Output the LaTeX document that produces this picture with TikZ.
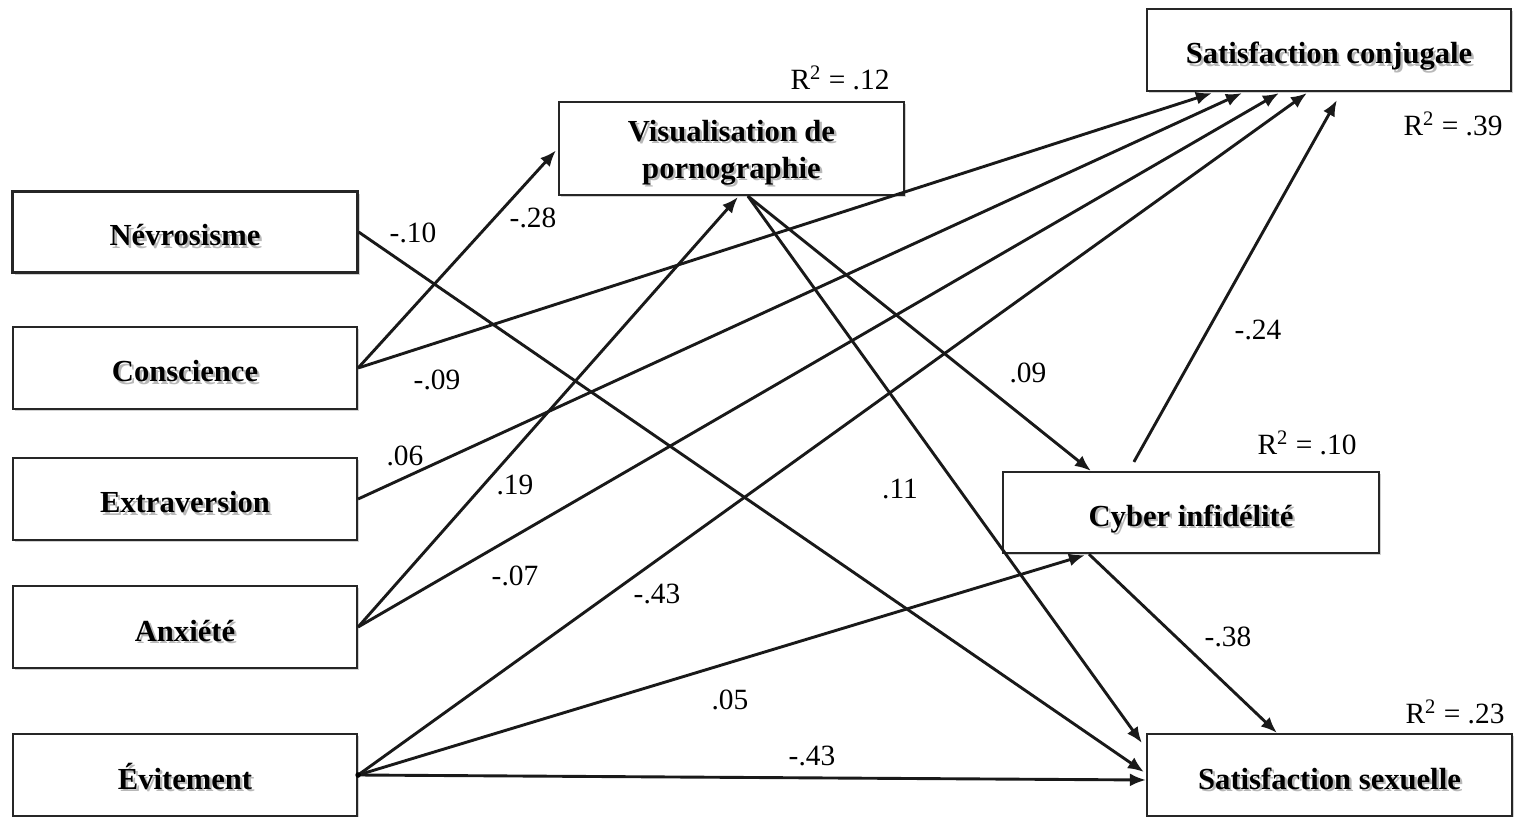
\documentclass[tikz,border=0pt]{standalone}
\usepackage{fontspec}
\setmainfont{Liberation Serif}
\usetikzlibrary{arrows.meta,calc,shadows}
\newcommand\shtxt[1]{\leavevmode\rlap{\kern1.2pt\raisebox{-1.2pt}{\color{black!28}#1}}#1}
\begin{document}
\begin{tikzpicture}[x=0.5pt,y=-0.5pt,
  box/.style={draw=black!85,line width=1.1pt,fill=white,inner sep=0pt,
    font=\fontsize{15.3}{18.5}\selectfont\bfseries,align=center,
    text height=16pt,text depth=2pt,
    drop shadow={shadow xshift=1.2pt,shadow yshift=-1.2pt,opacity=0.18,fill=black}},
  lbl/.style={font=\fontsize{14.7}{16}\selectfont,inner sep=0pt},
  path/.style={line width=1.45pt,draw=black!90,-{Latex[length=8pt,width=6.5pt]}}]
\useasboundingbox (0,0) rectangle (1514,817);
% nodes
\node[box,minimum width=172.5pt,minimum height=40.5pt] (neuro) at (185,232) {\shtxt{Névrosisme}};
\node[box,minimum width=172pt,minimum height=41pt] (consc) at (185,368) {\shtxt{Conscience}};
\node[box,minimum width=172pt,minimum height=41pt] (extra) at (185,499) {\shtxt{Extraversion}};
\node[box,minimum width=172pt,minimum height=41pt] (anx) at (185,627) {\shtxt{Anxiété}};
\node[box,minimum width=172pt,minimum height=41pt] (evit) at (185,775) {\shtxt{Évitement}};
\node[box,minimum width=172.5pt,minimum height=46.5pt,text height=32pt] (vis) at (731.5,148.5) {\shtxt{Visualisation de}\\\shtxt{pornographie}};
\node[box,minimum width=182pt,minimum height=41pt] (sconj) at (1329,50) {\shtxt{Satisfaction conjugale}};
\node[box,minimum width=188pt,minimum height=40.5pt] (cyber) at (1191,512.5) {\shtxt{Cyber infidélité}};
\node[box,minimum width=182.5pt,minimum height=41pt] (ssex) at (1329.5,775) {\shtxt{Satisfaction sexuelle}};
% R squared
\node[lbl] (r1) at (840,78) {R\textsuperscript{2} = .12};
\node[lbl] (r2) at (1453,124) {R\textsuperscript{2} = .39};
\node[lbl] (r3) at (1307,443) {R\textsuperscript{2} = .10};
\node[lbl] (r4) at (1455,712) {R\textsuperscript{2} = .23};
% endpoints
\coordinate (visout) at ($(vis.south west)+(190,0)$);
\coordinate (cybtop) at ($(cyber.north west)+(132,-9)$);
\coordinate (cybbot) at ($(cyber.south west)+(87,0)$);
% connectors
\draw[path] (neuro.east) -- ($(ssex.west)+(-2,-3)$);
\draw[path] (consc.east) -- ($(vis.west)+(-2,2)$);
\draw[path] (consc.east) -- ($(sconj.south west)+(66,1)$);
\draw[path] (extra.east) -- ($(sconj.south west)+(96,1)$);
\draw[path] (anx.east) -- ($(sconj.south west)+(133,1)$);
\draw[path] (evit.east) -- ($(sconj.south west)+(161,1)$);
\draw[path] (anx.east) -- ($(vis.south west)+(180,1)$);
\draw[path] (visout) -- ($(cyber.north west)+(89,0)$);
\draw[path] (visout) -- ($(ssex.west)+(-4,-32)$);
\draw[path] (evit.east) -- ($(cyber.south west)+(83,1)$);
\draw[path] (evit.east) -- ($(ssex.west)+(0,5)$);
\draw[path] (cybtop) -- ($(sconj.south west)+(191,8)$);
\draw[path] (cybbot) -- ($(ssex.north west)+(131,0)$);
\fill[black] (evit.east) circle (1.4pt);
% coefficient labels
\node[lbl] (l1) at (413,233) {-.10};
\node[lbl] (l2) at (533,218) {-.28};
\node[lbl] (l3) at (437,380) {-.09};
\node[lbl] (l4) at (405,456) {.06};
\node[lbl] (l5) at (515,485) {.19};
\node[lbl] (l6) at (515,576) {-.07};
\node[lbl] (l7) at (657,594) {-.43};
\node[lbl] (l8) at (1028,373) {.09};
\node[lbl] (l9) at (900,489) {.11};
\node[lbl] (l10) at (730,700) {.05};
\node[lbl] (l11) at (812,756) {-.43};
\node[lbl] (l12) at (1258,330) {-.24};
\node[lbl] (l13) at (1228,637) {-.38};
\end{tikzpicture}
\end{document}
